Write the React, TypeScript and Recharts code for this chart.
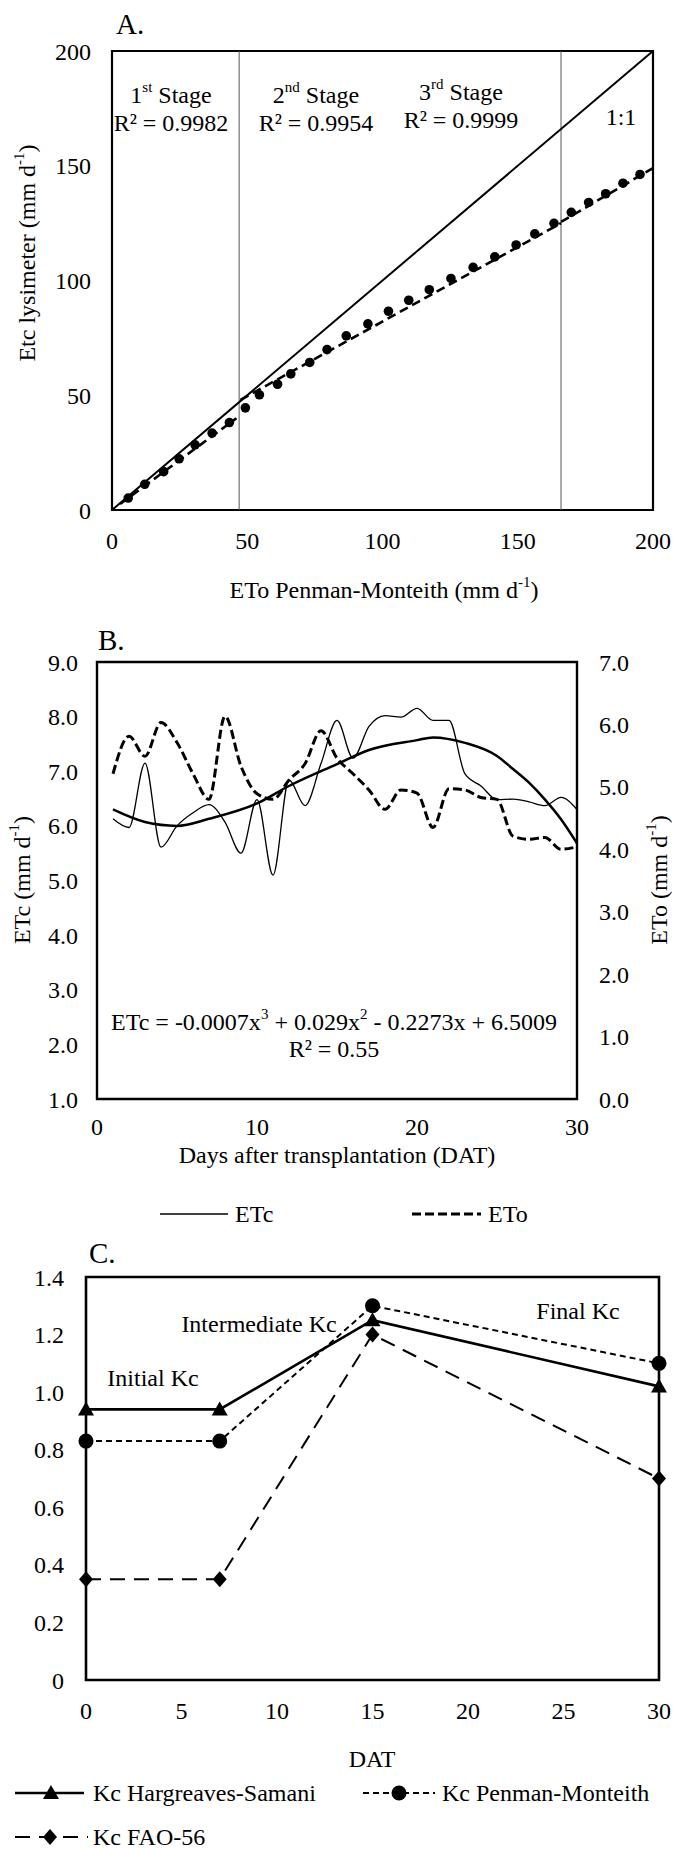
import React from "react";
import {
  ComposedChart,
  Line,
  Scatter,
  XAxis,
  YAxis,
  ReferenceArea,
  ReferenceLine,
} from "recharts";

const FONT = '"Liberation Serif", "Times New Roman", serif';
const tickStyle = { fill: "#000", fontSize: 24, fontFamily: FONT };

// Panel A: ETo Penman-Monteith vs Etc lysimeter (cumulative, mm d-1)
const etoPm = [
  6.0, 12.1, 19.1, 24.8, 30.7, 37.0, 43.4, 49.3, 54.5, 61.2, 66.1, 73.1, 79.5,
  86.6, 94.6, 102.2, 109.7, 117.3, 125.3, 133.5, 141.5, 149.4, 156.3, 163.4,
  169.8, 176.2, 182.5, 188.9, 195.2,
];
const etcLysimeter = [
  5.2, 11.2, 16.7, 22.3, 28.4, 33.5, 38.1, 44.5, 50.2, 54.8, 59.3, 64.3, 69.9,
  75.9, 81.1, 86.6, 91.4, 96.0, 100.9, 105.7, 110.3, 115.5, 120.3, 124.9,
  129.7, 134.0, 137.8, 142.4, 146.2,
];
const oneToOneX = [0, 200];
const oneToOneY = [0, 200];
const stage1FitX = [3, 46];
const stage1FitY = [2.6, 40];
const stage2FitX = [47.5, 166];
const stage2FitY = [48, 125];
const stage3FitX = [166, 200];
const stage3FitY = [125.5, 149];
const stageBounds = [47, 166];
const axisATicks = [0, 50, 100, 150, 200];

// Panel B: daily ETc and ETo
const days = [
  1, 2, 3, 4, 5, 6, 7, 8, 9, 10, 11, 12, 13, 14, 15, 16, 17, 18, 19, 20, 21,
  22, 23, 24, 25, 26, 27, 28, 29, 30,
];
const etcDaily = [
  6.13, 5.97, 7.15, 5.61, 6.0, 6.24, 6.39, 6.07, 5.5, 6.48, 5.1, 6.84, 6.37,
  7.14, 7.93, 7.24, 7.82, 8.02, 7.99, 8.15, 7.93, 7.93, 6.95, 6.73, 6.48, 6.49,
  6.44, 6.37, 6.52, 6.3,
];
const etoDaily = [
  5.21, 5.81, 5.49, 6.03, 5.71, 5.21, 4.8, 6.13, 5.33, 4.89, 4.8, 5.11, 5.37,
  5.9, 5.46, 5.21, 4.95, 4.64, 4.95, 4.9, 4.35, 4.97, 4.95, 4.83, 4.8, 4.21,
  4.16, 4.19, 4.0, 4.04,
];
const fitDays = [1, 3, 5, 7, 10, 12, 15, 17, 20, 21, 23, 25, 26, 27, 28, 29, 30];
const fitEtc = [
  6.3, 6.07, 6.0, 6.13, 6.41, 6.73, 7.13, 7.39, 7.57, 7.62, 7.52, 7.28, 7.04,
  6.79, 6.48, 6.12, 5.68,
];
const etcTicks = [1, 2, 3, 4, 5, 6, 7, 8, 9];
const etoTicks = [0, 1, 2, 3, 4, 5, 6, 7];
const datTicksB = [0, 10, 20, 30];

// Panel C: Kc by stage
const kcDays = [0, 7, 15, 30];
const kcHargreaves = [0.94, 0.94, 1.25, 1.02];
const kcPenman = [0.83, 0.83, 1.3, 1.1];
const kcFao = [0.35, 0.35, 1.2, 0.7];
const kcTicks = [0, 0.2, 0.4, 0.6, 0.8, 1.0, 1.2, 1.4];
const datTicksC = [0, 5, 10, 15, 20, 25, 30];

const pairs = (xs: number[], ys: number[]) => xs.map((x, i) => ({ x, y: ys[i] }));

const Triangle = ({ cx, cy }: { cx: number; cy: number }) => (
  <polygon points={`${cx},${cy - 8} ${cx - 8},${cy + 6} ${cx + 8},${cy + 6}`} fill="#000" />
);
const Diamond = ({ cx, cy }: { cx: number; cy: number }) => (
  <polygon points={`${cx},${cy - 8} ${cx + 7},${cy} ${cx},${cy + 8} ${cx - 7},${cy}`} fill="#000" />
);
const Circle = ({ cx, cy }: { cx: number; cy: number }) => (
  <circle cx={cx} cy={cy} r={7.5} fill="#000" />
);

// shared axis look: no lines, black serif labels
const axisBase = {
  axisLine: false,
  tickLine: false,
  tickSize: 0,
  interval: 0 as const,
  tick: tickStyle,
};

function PanelA() {
  const fitProps = {
    dataKey: "y",
    stroke: "#000",
    strokeWidth: 2.6,
    strokeDasharray: "9 5",
    dot: false,
    isAnimationActive: false,
  };
  return (
    <ComposedChart width={675} height={620} margin={{ top: 51, right: 22, bottom: 80, left: 52 }}>
      <XAxis
        {...axisBase}
        type="number"
        dataKey="x"
        domain={[0, 200]}
        ticks={axisATicks}
        height={30}
        tickMargin={22}
      />
      <YAxis
        {...axisBase}
        type="number"
        dataKey="y"
        domain={[0, 200]}
        ticks={axisATicks}
        width={60}
        tickMargin={21}
      />
      <ReferenceArea x1={0} x2={200} y1={0} y2={200} fill="none" stroke="#000" strokeWidth={2.2} />
      {stageBounds.map((b) => (
        <ReferenceLine key={b} x={b} stroke="#555" strokeWidth={1} />
      ))}
      <Line data={pairs(oneToOneX, oneToOneY)} dataKey="y" stroke="#000" strokeWidth={2} dot={false} isAnimationActive={false} />
      <Line data={pairs(stage1FitX, stage1FitY)} {...fitProps} />
      <Line data={pairs(stage2FitX, stage2FitY)} {...fitProps} />
      <Line data={pairs(stage3FitX, stage3FitY)} {...fitProps} />
      <Scatter
        data={pairs(etoPm, etcLysimeter)}
        dataKey="y"
        isAnimationActive={false}
        shape={(p: any) => <circle cx={p.cx} cy={p.cy} r={4.8} fill="#000" />}
      />
    </ComposedChart>
  );
}

function PanelB() {
  const rows = days.map((day, i) => ({ day, etc: etcDaily[i], eto: etoDaily[i] }));
  const fitRows = fitDays.map((day, i) => ({ day, fit: fitEtc[i] }));
  return (
    <ComposedChart width={675} height={620} data={rows} margin={{ top: 42, right: 38, bottom: 111, left: 37 }}>
      <XAxis
        {...axisBase}
        type="number"
        dataKey="day"
        domain={[0, 30]}
        ticks={datTicksB}
        height={30}
        tickMargin={19}
      />
      <YAxis
        {...axisBase}
        yAxisId="l"
        type="number"
        domain={[1, 9]}
        ticks={etcTicks}
        width={60}
        tickMargin={19}
        tickFormatter={(v: number) => v.toFixed(1)}
      />
      <YAxis
        {...axisBase}
        yAxisId="r"
        orientation="right"
        type="number"
        domain={[0, 7]}
        ticks={etoTicks}
        width={60}
        tickMargin={22}
        tickFormatter={(v: number) => v.toFixed(1)}
      />
      <ReferenceArea yAxisId="l" x1={0} x2={30} y1={1} y2={9} fill="none" stroke="#000" strokeWidth={2.4} />
      <Line yAxisId="l" type="monotone" dataKey="etc" stroke="#000" strokeWidth={1.3} dot={false} isAnimationActive={false} />
      <Line yAxisId="r" type="monotone" dataKey="eto" stroke="#000" strokeWidth={3} strokeDasharray="9 4" dot={false} isAnimationActive={false} />
      <Line yAxisId="l" data={fitRows} type="monotone" dataKey="fit" stroke="#000" strokeWidth={2.5} dot={false} isAnimationActive={false} />
    </ComposedChart>
  );
}

function PanelC() {
  const rows = kcDays.map((day, i) => ({ day, hs: kcHargreaves[i], pm: kcPenman[i], fao: kcFao[i] }));
  return (
    <ComposedChart width={675} height={609} data={rows} margin={{ top: 37, right: 16, bottom: 139, left: 26 }}>
      <XAxis
        {...axisBase}
        type="number"
        dataKey="day"
        domain={[0, 30]}
        ticks={datTicksC}
        height={30}
        tickMargin={22}
      />
      <YAxis
        {...axisBase}
        type="number"
        domain={[0, 1.4]}
        ticks={kcTicks}
        width={60}
        tickMargin={22}
        tickFormatter={(v: number) => (v === 0 ? "0" : v.toFixed(1))}
      />
      <ReferenceArea x1={0} x2={30} y1={0} y2={1.4} fill="none" stroke="#000" strokeWidth={2.6} />
      <Line
        dataKey="hs"
        stroke="#000"
        strokeWidth={2.6}
        isAnimationActive={false}
        dot={(p: any) => <Triangle key={`hs${p.index}`} cx={p.cx} cy={p.cy} />}
      />
      <Line
        dataKey="pm"
        stroke="#000"
        strokeWidth={2}
        strokeDasharray="6 4"
        isAnimationActive={false}
        dot={(p: any) => <Circle key={`pm${p.index}`} cx={p.cx} cy={p.cy} />}
      />
      <Line
        dataKey="fao"
        stroke="#000"
        strokeWidth={2}
        strokeDasharray="15 9"
        isAnimationActive={false}
        dot={(p: any) => <Diamond key={`fao${p.index}`} cx={p.cx} cy={p.cy} />}
      />
    </ComposedChart>
  );
}

function Overlay() {
  const t = { fontFamily: FONT, fontSize: 24, fill: "#000", dominantBaseline: "central" as const };
  return (
    <svg width={675} height={1849} style={{ position: "absolute", left: 0, top: 0, pointerEvents: "none" }}>
      {/* panel A */}
      <text x={116} y={24} {...t} fontSize={29}>A.</text>
      <text x={171} y={95} {...t} textAnchor="middle">
        1<tspan dy={-8} fontSize={15}>st</tspan><tspan dy={8}> Stage</tspan>
      </text>
      <text x={171} y={123} {...t} textAnchor="middle">R² = 0.9982</text>
      <text x={316} y={95} {...t} textAnchor="middle">
        2<tspan dy={-8} fontSize={15}>nd</tspan><tspan dy={8}> Stage</tspan>
      </text>
      <text x={316} y={123} {...t} textAnchor="middle">R² = 0.9954</text>
      <text x={461} y={92} {...t} textAnchor="middle">
        3<tspan dy={-8} fontSize={15}>rd</tspan><tspan dy={8}> Stage</tspan>
      </text>
      <text x={461} y={120} {...t} textAnchor="middle">R² = 0.9999</text>
      <text x={621} y={117} {...t} textAnchor="middle">1:1</text>
      <text transform="translate(27,253) rotate(-90)" {...t} textAnchor="middle">
        Etc lysimeter (mm d<tspan dy={-8} fontSize={15}>-1</tspan><tspan dy={8}>)</tspan>
      </text>
      <text x={384} y={590} {...t} textAnchor="middle">
        ETo Penman-Monteith (mm d<tspan dy={-8} fontSize={15}>-1</tspan><tspan dy={8}>)</tspan>
      </text>

      {/* panel B */}
      <text x={98} y={640} {...t} fontSize={29}>B.</text>
      <text x={334} y={1022} {...t} textAnchor="middle">
        ETc = -0.0007x<tspan dy={-8} fontSize={15}>3</tspan>
        <tspan dy={8}> + 0.029x</tspan>
        <tspan dy={-8} fontSize={15}>2</tspan>
        <tspan dy={8}> - 0.2273x + 6.5009</tspan>
      </text>
      <text x={334} y={1049} {...t} textAnchor="middle">R² = 0.55</text>
      <text transform="translate(22,880) rotate(-90)" {...t} textAnchor="middle">
        ETc (mm d<tspan dy={-8} fontSize={15}>-1</tspan><tspan dy={8}>)</tspan>
      </text>
      <text transform="translate(659,880) rotate(-90)" {...t} textAnchor="middle">
        ETo (mm d<tspan dy={-8} fontSize={15}>-1</tspan><tspan dy={8}>)</tspan>
      </text>
      <text x={337} y={1155} {...t} textAnchor="middle">Days after transplantation (DAT)</text>
      <line x1={160} x2={228} y1={1214} y2={1214} stroke="#000" strokeWidth={1.5} />
      <text x={235} y={1214} {...t}>ETc</text>
      <line x1={412} x2={481} y1={1214} y2={1214} stroke="#000" strokeWidth={3} strokeDasharray="9 4" />
      <text x={488} y={1214} {...t}>ETo</text>

      {/* panel C */}
      <text x={89} y={1253} {...t} fontSize={29}>C.</text>
      <text x={153} y={1378} {...t} textAnchor="middle">Initial Kc</text>
      <text x={259} y={1324} {...t} textAnchor="middle">Intermediate Kc</text>
      <text x={578} y={1311} {...t} textAnchor="middle">Final Kc</text>
      <text x={372} y={1759} {...t} textAnchor="middle">DAT</text>
      <line x1={15} x2={84} y1={1793} y2={1793} stroke="#000" strokeWidth={2.6} />
      <Triangle cx={51} cy={1793} />
      <text x={93} y={1793} {...t}>Kc Hargreaves-Samani</text>
      <line x1={363} x2={435} y1={1793} y2={1793} stroke="#000" strokeWidth={2} strokeDasharray="6 4" />
      <Circle cx={399} cy={1793} />
      <text x={442} y={1793} {...t}>Kc Penman-Monteith</text>
      <line x1={15} x2={88} y1={1837} y2={1837} stroke="#000" strokeWidth={2} strokeDasharray="15 9" />
      <Diamond cx={50} cy={1837} />
      <text x={93} y={1837} {...t}>Kc FAO-56</text>
    </svg>
  );
}

export default function App() {
  return (
    <div style={{ position: "absolute", left: 0, top: 0, width: 675, height: 1849, background: "#fff", fontFamily: FONT }}>
      <div style={{ position: "absolute", left: 0, top: 0 }}>
        <PanelA />
      </div>
      <div style={{ position: "absolute", left: 0, top: 620 }}>
        <PanelB />
      </div>
      <div style={{ position: "absolute", left: 0, top: 1240 }}>
        <PanelC />
      </div>
      <Overlay />
    </div>
  );
}
